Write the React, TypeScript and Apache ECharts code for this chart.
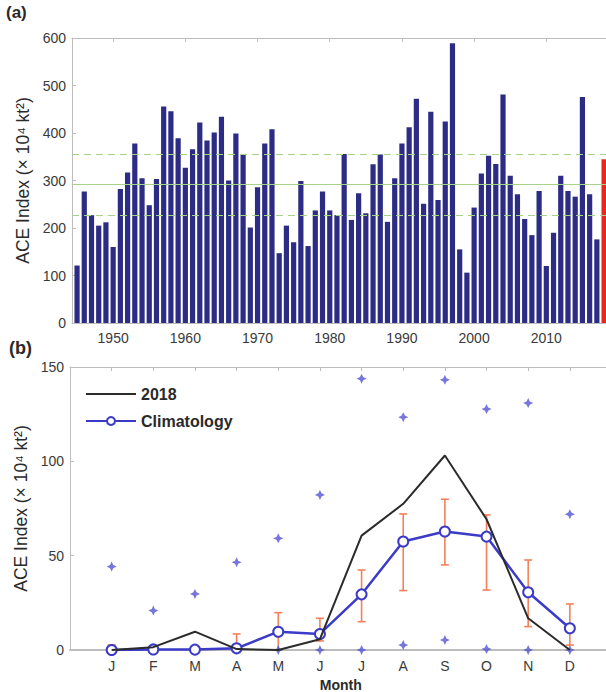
import React, { useEffect, useRef } from "react";
import * as echarts from "echarts";

// ---------- Panel (a): annual ACE ----------
const years = [
  1945, 1946, 1947, 1948, 1949, 1950, 1951, 1952, 1953, 1954, 1955, 1956, 1957, 1958, 1959,
  1960, 1961, 1962, 1963, 1964, 1965, 1966, 1967, 1968, 1969, 1970, 1971, 1972, 1973, 1974,
  1975, 1976, 1977, 1978, 1979, 1980, 1981, 1982, 1983, 1984, 1985, 1986, 1987, 1988, 1989,
  1990, 1991, 1992, 1993, 1994, 1995, 1996, 1997, 1998, 1999, 2000, 2001, 2002, 2003, 2004,
  2005, 2006, 2007, 2008, 2009, 2010, 2011, 2012, 2013, 2014, 2015, 2016, 2017, 2018,
];
const annualAce = [
  121, 277, 227, 205, 212, 160, 282, 317, 378, 305, 248, 303, 456, 446, 389,
  327, 366, 422, 384, 401, 434, 300, 399, 355, 201, 286, 378, 408, 147, 205,
  170, 299, 162, 237, 277, 237, 227, 356, 217, 273, 231, 334, 355, 213, 305,
  378, 412, 472, 251, 445, 259, 424, 589, 155, 106, 243, 315, 352, 335, 481,
  310, 271, 219, 185, 278, 120, 190, 310, 278, 266, 476, 271, 176, 345,
];
const highlightYear = 2018;
const meanLine = 293;
const upperLine = 355;
const lowerLine = 227;
const yearTicks = [1950, 1960, 1970, 1980, 1990, 2000, 2010];

// ---------- Panel (b): monthly ACE ----------
const monthIndex = [1, 2, 3, 4, 5, 6, 7, 8, 9, 10, 11, 12];
const monthLabels = ["J", "F", "M", "A", "M", "J", "J", "A", "S", "O", "N", "D"];
const ace2018 = [0, 1.5, 9.7, 0.5, 0, 5.7, 60.6, 77.5, 103.1, 69.3, 16.8, 0];
const climatology = [0, 0.3, 0.2, 0.9, 9.7, 8.5, 29.5, 57.5, 62.8, 60.1, 30.6, 11.5];
const errLower = [0, 0, 0, 0, 0, 4.8, 15.0, 31.5, 45.1, 31.8, 12.4, 2.6];
const errUpper = [2.7, 0.5, 0.4, 8.5, 19.8, 16.8, 42.4, 72.1, 79.9, 71.6, 47.7, 24.4];
const monthMax = [44.2, 20.9, 29.7, 46.5, 59.2, 82.2, 143.8, 123.4, 143.2, 127.7, 130.9, 72.0];
const monthMin = [0, 0, 0, 0, 0, 0, 0, 2.6, 5.3, 0.5, 0, 0];

const FONT = "'Liberation Sans', Arial, sans-serif";
const AXIS_GRAY = "#BDBDBD";
const TEXT = "#2a2a2a";
const BAR = "#2C2C84";
const RED = "#E8281E";
const BLUE = "#3B3BC8";
const STAR = "#5454D2";
const ORANGE = "#F4805A";
const GREEN = "#A6D38A";

const yLabel = "ACE Index (\u00d7 10\u2074 kt\u00b2)";
const starPath = "path://M0,-5 L1.6,-1.6 L5,0 L1.6,1.6 L0,5 L-1.6,1.6 L-5,0 L-1.6,-1.6 Z";

export default function App() {
  const ref = useRef<HTMLDivElement>(null);

  useEffect(() => {
    if (!ref.current) return;
    const chart = echarts.init(ref.current, undefined, { renderer: "svg" });

    const barData = years.map((y, i) =>
      y === highlightYear
        ? { value: [y, annualAce[i]], itemStyle: { color: RED } }
        : { value: [y, annualAce[i]] }
    );
    const errData = monthIndex.map((m, i) => [m, errLower[i], errUpper[i]]);

    const tickLabel = { color: "#3a3a3a", fontSize: 14, fontFamily: FONT };
    const axisLine = { show: true, lineStyle: { color: AXIS_GRAY, width: 1 } };

    const option: any = {
      animation: false,
      backgroundColor: "#fff",
      textStyle: { fontFamily: FONT },
      grid: [
        { left: 72, top: 38, width: 539.3, height: 285, outerBoundsMode: "none", containLabel: false },
        { left: 70, top: 367, width: 541.5, height: 283, outerBoundsMode: "none", containLabel: false },
      ],
      xAxis: [
        {
          gridIndex: 0,
          type: "value",
          min: 1944.3,
          max: 2019,
          position: "bottom",
          axisLine,
          axisTick: { show: true, inside: true, length: 4, customValues: yearTicks, lineStyle: { color: AXIS_GRAY } },
          axisLabel: { ...tickLabel, margin: 8, customValues: yearTicks, formatter: (v: number) => String(v) },
          splitLine: { show: false },
        },
        {
          gridIndex: 0,
          type: "value",
          min: 1944.3,
          max: 2019,
          position: "top",
          axisLine,
          axisTick: { show: true, inside: true, length: 4, customValues: yearTicks, lineStyle: { color: AXIS_GRAY } },
          axisLabel: { show: false },
          splitLine: { show: false },
        },
        {
          gridIndex: 1,
          type: "value",
          min: 0,
          max: 13,
          position: "bottom",
          axisLine: { show: true, lineStyle: { color: AXIS_GRAY, width: 2 } },
          axisTick: { show: false },
          axisLabel: {
            ...tickLabel,
            margin: 9,
            customValues: monthIndex,
            formatter: (v: number) => monthLabels[Math.round(v) - 1] ?? "",
          },
          splitLine: { show: false },
          name: "Month",
          nameLocation: "middle",
          nameGap: 28,
          nameTextStyle: { fontSize: 14, fontWeight: "bold", color: TEXT, fontFamily: FONT },
        },
        {
          gridIndex: 1,
          type: "value",
          min: 0,
          max: 13,
          position: "top",
          axisLine,
          axisTick: { show: true, inside: true, length: 4, customValues: monthIndex, lineStyle: { color: AXIS_GRAY } },
          axisLabel: { show: false },
          splitLine: { show: false },
        },
      ],
      yAxis: [
        {
          gridIndex: 0,
          type: "value",
          min: 0,
          max: 600,
          interval: 100,
          axisLine,
          axisTick: { show: true, inside: true, length: 4, lineStyle: { color: AXIS_GRAY } },
          axisLabel: { ...tickLabel, margin: 6 },
          splitLine: { show: false },
          name: yLabel,
          nameLocation: "middle",
          nameGap: 36,
          nameTextStyle: { fontSize: 17.5, color: TEXT, fontFamily: FONT },
        },
        {
          gridIndex: 1,
          type: "value",
          min: 0,
          max: 150,
          interval: 50,
          axisLine,
          axisTick: { show: true, inside: true, length: 4, lineStyle: { color: AXIS_GRAY } },
          axisLabel: { ...tickLabel, margin: 6 },
          splitLine: { show: false },
          name: yLabel,
          nameLocation: "middle",
          nameGap: 34,
          nameTextStyle: { fontSize: 17.5, color: TEXT, fontFamily: FONT },
        },
      ],
      legend: {
        orient: "vertical",
        left: 80,
        top: 381,
        itemWidth: 50,
        itemHeight: 10,
        itemGap: 11,
        data: [{ name: "2018", itemStyle: { opacity: 0 } }, { name: "Climatology" }],
        textStyle: { fontSize: 16, fontWeight: "bold", color: TEXT, fontFamily: FONT },
      },
      graphic: [
        { type: "text", left: 6, top: 4, style: { text: "(a)", fontSize: 17, fontWeight: "bold", fill: TEXT, fontFamily: FONT } },
        { type: "text", left: 9, top: 339, style: { text: "(b)", fontSize: 18, fontWeight: "bold", fill: TEXT, fontFamily: FONT } },
      ],
      series: [
        {
          name: "refLines",
          type: "line",
          xAxisIndex: 0,
          yAxisIndex: 0,
          data: [],
          z: 1,
          silent: true,
          markLine: {
            silent: true,
            symbol: "none",
            label: { show: false },
            data: [
              { yAxis: meanLine, lineStyle: { color: GREEN, width: 1, type: "solid" } },
              { yAxis: upperLine, lineStyle: { color: GREEN, width: 1, type: [7, 5] } },
              { yAxis: lowerLine, lineStyle: { color: GREEN, width: 1, type: [7, 5] } },
            ],
          },
        },
        {
          name: "annual",
          type: "bar",
          xAxisIndex: 0,
          yAxisIndex: 0,
          barWidth: 5.2,
          itemStyle: { color: BAR },
          data: barData,
          z: 2,
        },
        {
          name: "errors",
          type: "custom",
          xAxisIndex: 2,
          yAxisIndex: 1,
          z: 2,
          data: errData,
          renderItem: (params: any, api: any) => {
            const x = api.value(0);
            const lo = api.coord([x, api.value(1)]);
            const hi = api.coord([x, api.value(2)]);
            const w = 4;
            const style = { stroke: ORANGE, lineWidth: 1.6 };
            return {
              type: "group",
              children: [
                { type: "line", shape: { x1: lo[0], y1: lo[1], x2: hi[0], y2: hi[1] }, style },
                { type: "line", shape: { x1: hi[0] - w, y1: hi[1], x2: hi[0] + w, y2: hi[1] }, style },
                { type: "line", shape: { x1: lo[0] - w, y1: lo[1], x2: lo[0] + w, y2: lo[1] }, style },
              ],
            };
          },
        },
        {
          name: "max",
          type: "scatter",
          xAxisIndex: 2,
          yAxisIndex: 1,
          symbol: starPath,
          symbolSize: 10,
          itemStyle: { color: STAR },
          data: monthIndex.map((m, i) => [m, monthMax[i]]),
          z: 3,
        },
        {
          name: "min",
          type: "scatter",
          xAxisIndex: 2,
          yAxisIndex: 1,
          symbol: starPath,
          symbolSize: 10,
          itemStyle: { color: STAR },
          data: monthIndex.map((m, i) => [m, monthMin[i]]),
          z: 3,
        },
        {
          name: "Climatology",
          type: "line",
          xAxisIndex: 2,
          yAxisIndex: 1,
          symbol: "emptyCircle",
          symbolSize: 10,
          lineStyle: { color: BLUE, width: 2.5 },
          itemStyle: { color: BLUE, borderWidth: 2 },
          data: monthIndex.map((m, i) => [m, climatology[i]]),
          z: 4,
        },
        {
          name: "2018",
          type: "line",
          xAxisIndex: 2,
          yAxisIndex: 1,
          symbol: "none",
          lineStyle: { color: "#2b2b2b", width: 2 },
          itemStyle: { color: "#2b2b2b" },
          data: monthIndex.map((m, i) => [m, ace2018[i]]),
          z: 5,
        },
      ],
    };

    chart.setOption(option);
    return () => chart.dispose();
  }, []);

  return (
    <div
      ref={ref}
      style={{ position: "absolute", left: 0, top: 0, width: 606, height: 692, background: "#fff" }}
    />
  );
}
